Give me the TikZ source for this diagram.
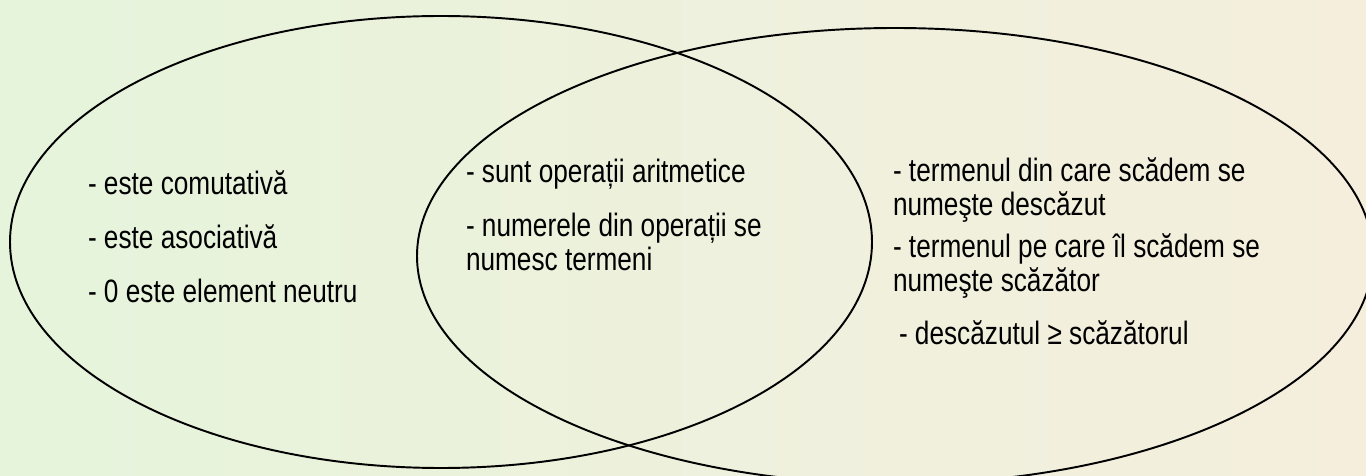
\documentclass[tikz,border=0pt]{standalone}
\usepackage{fontspec}
\setmainfont{Liberation Sans}[FakeStretch=0.81]
\usetikzlibrary{positioning}
\definecolor{bgleft}{RGB}{230,244,220}
\definecolor{bgright}{RGB}{245,238,221}
\tikzset{
    every node/.style={font=\fontsize{9.2}{9.7}\selectfont},
    venn/.style={line width=.55pt, black},
    item/.style={anchor=base west, align=left, inner sep=0pt, outer sep=0pt},
}

\begin{document}
\begin{tikzpicture}[x=.01cm, y=-.01cm]
    \shade [left color=bgleft, right color=bgright] (0,0) rectangle (1366,476);
    \useasboundingbox (0,0) rectangle (1366,476);

    \draw [venn] (441,242) ellipse [x radius=431, y radius=226];
    \draw [venn] (895,256) ellipse [x radius=478, y radius=228];

    % adunare
    \node [item] (ad1) at (88,195) {- este comutativă};
    \node [item] (ad2) at (88,249) {- este asociativă};
    \node [item] (ad3) at (88,303) {- 0 este element neutru};

    % comun (base = last line)
    \node [item] (co1) at (466,183) {- sunt operații aritmetice};
    \node [item] (co2) at (466,271) {- numerele din operații se\\numesc termeni};

    % scadere
    \node [item] (sc1) at (893,216) {- termenul din care scădem se\\numeşte descăzut};
    \node [item] (sc2) at (893,292) {- termenul pe care îl scădem se\\numeşte scăzător};
    \node [item] (sc3) at (899,344) {- descăzutul ≥ scăzătorul};
\end{tikzpicture}
\end{document}
